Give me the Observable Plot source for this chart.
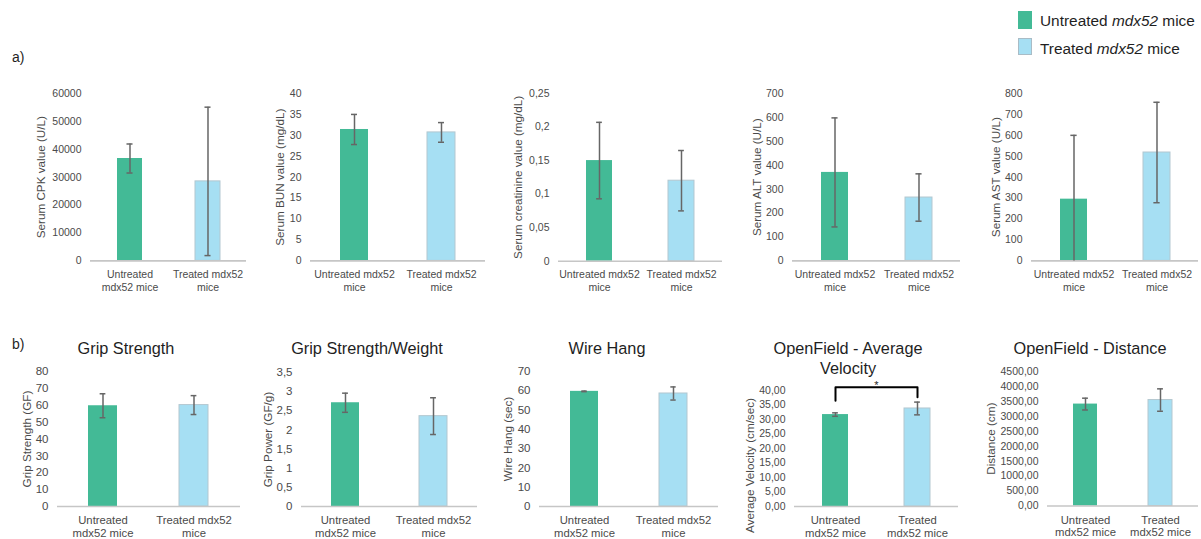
<!DOCTYPE html>
<html><head><meta charset="utf-8">
<script src="https://cdn.jsdelivr.net/npm/d3@7"></script>
<script src="https://cdn.jsdelivr.net/npm/@observablehq/plot@0.6"></script>
<style>
body{margin:0;background:#fff;font-family:"Liberation Sans",Arial,sans-serif;}
#root{position:relative;width:1201px;height:539px;overflow:hidden;background:#fff;}
.abs{position:absolute;white-space:nowrap;color:#1f1f1f;}
</style></head><body><div id="root"></div>
<script>
// ---------- data ----------
const groups = ["Untreated mdx52 mice", "Treated mdx52 mice"];
const groupColors = ["#43ba96", "#a6dff3"];

// a) serum values (mean, error)
const cpkMean = [36700, 28500], cpkErr = [5200, 26600];
const bunMean = [31.4, 30.7], bunErr = [3.6, 2.35];
const creatMean = [0.15, 0.12], creatErr = [0.057, 0.045];
const altMean = [370, 265], altErr = [228, 99];
const astMean = [295, 518], astErr = [305, 240];
// b) behaviour values (mean, error)
const gripMean = [59.7, 60.1], gripErr = [7.1, 5.6];
const gripWMean = [2.71, 2.36], gripWErr = [0.25, 0.48];
const wireMean = [59.7, 58.6], wireErr = [0.15, 3.4];
const velMean = [31.7, 33.8], velErr = [0.6, 2.2];
const distMean = [3410, 3545], distErr = [197, 375];

// tick values and labels
const cpkTicks = [0, 10000, 20000, 30000, 40000, 50000, 60000];
const cpkTickLabels = ["0", "10000", "20000", "30000", "40000", "50000", "60000"];
const bunTicks = [0, 5, 10, 15, 20, 25, 30, 35, 40];
const bunTickLabels = ["0", "5", "10", "15", "20", "25", "30", "35", "40"];
const creatTicks = [0, 0.05, 0.1, 0.15, 0.2, 0.25];
const creatTickLabels = ["0", "0,05", "0,1", "0,15", "0,2", "0,25"];
const altTicks = [0, 100, 200, 300, 400, 500, 600, 700];
const altTickLabels = ["0", "100", "200", "300", "400", "500", "600", "700"];
const astTicks = [0, 100, 200, 300, 400, 500, 600, 700, 800];
const astTickLabels = ["0", "100", "200", "300", "400", "500", "600", "700", "800"];
const gripTicks = [0, 10, 20, 30, 40, 50, 60, 70, 80];
const gripTickLabels = ["0", "10", "20", "30", "40", "50", "60", "70", "80"];
const gripWTicks = [0, 0.5, 1, 1.5, 2, 2.5, 3, 3.5];
const gripWTickLabels = ["0", "0,5", "1", "1,5", "2", "2,5", "3", "3,5"];
const wireTicks = [0, 10, 20, 30, 40, 50, 60, 70];
const wireTickLabels = ["0", "10", "20", "30", "40", "50", "60", "70"];
const velTicks = [0, 5, 10, 15, 20, 25, 30, 35, 40];
const velTickLabels = ["0,00", "5,00", "10,00", "15,00", "20,00", "25,00", "30,00", "35,00", "40,00"];
const distTicks = [0, 500, 1000, 1500, 2000, 2500, 3000, 3500, 4000, 4500];
const distTickLabels = ["0,00", "500,00", "1000,00", "1500,00", "2000,00", "2500,00", "3000,00", "3500,00", "4000,00", "4500,00"];

// category tick labels (line-broken as in the figure)
const catLabelsA1 = ["Untreated\nmdx52 mice", "Treated mdx52\nmice"];
const catLabelsA = ["Untreated mdx52\nmice", "Treated mdx52\nmice"];
const catLabelsB = ["Untreated\nmdx52 mice", "Treated mdx52\nmice"];
const catLabelsB2 = ["Untreated\nmdx52 mice", "Treated\nmdx52 mice"];

// significance bracket in the velocity panel
const sigBracketY = [36.5, 41.1, 41.1, 37.7];
const sigStarY = 41.9;

const panels = [
  {mean: cpkMean, err: cpkErr, ticks: cpkTicks, tickLabels: cpkTickLabels, yLabel: "Serum CPK value (U/L)", cats: catLabelsA1},
  {mean: bunMean, err: bunErr, ticks: bunTicks, tickLabels: bunTickLabels, yLabel: "Serum BUN value (mg/dL)", cats: catLabelsA},
  {mean: creatMean, err: creatErr, ticks: creatTicks, tickLabels: creatTickLabels, yLabel: "Serum creatinine value (mg/dL)", cats: catLabelsA},
  {mean: altMean, err: altErr, ticks: altTicks, tickLabels: altTickLabels, yLabel: "Serum ALT value (U/L)", cats: catLabelsA},
  {mean: astMean, err: astErr, ticks: astTicks, tickLabels: astTickLabels, yLabel: "Serum AST value (U/L)", cats: catLabelsA},
  {mean: gripMean, err: gripErr, ticks: gripTicks, tickLabels: gripTickLabels, yLabel: "Grip Strength (GF)", cats: catLabelsB, title: "Grip Strength"},
  {mean: gripWMean, err: gripWErr, ticks: gripWTicks, tickLabels: gripWTickLabels, yLabel: "Grip Power (GF/g)", cats: catLabelsB, title: "Grip Strength/Weight"},
  {mean: wireMean, err: wireErr, ticks: wireTicks, tickLabels: wireTickLabels, yLabel: "Wire Hang (sec)", cats: catLabelsB, title: "Wire Hang"},
  {mean: velMean, err: velErr, ticks: velTicks, tickLabels: velTickLabels, yLabel: "Average Velocity (cm/sec)", cats: catLabelsB2, title: "OpenField - Average\nVelocity", sig: true},
  {mean: distMean, err: distErr, ticks: distTicks, tickLabels: distTickLabels, yLabel: "Distance (cm)", cats: catLabelsB2, title: "OpenField - Distance"}
];

// ---------- layout ----------
const frames = [
  {x0: 90, x1: 246, yt: 93.3, yb: 260.7, labDx: -49, tickFs: 10.5, catFs: 10.5, lh: 1.24, catPad: 8},
  {x0: 310, x1: 485, yt: 93.3, yb: 260.7, labDx: -30, tickFs: 10.5, catFs: 10.5, lh: 1.24, catPad: 8},
  {x0: 558, x1: 722, yt: 93.3, yb: 261, labDx: -40, tickFs: 10.5, catFs: 10.5, lh: 1.24, catPad: 8},
  {x0: 792, x1: 960, yt: 93.3, yb: 260.7, labDx: -35, tickFs: 10.5, catFs: 10.5, lh: 1.24, catPad: 8},
  {x0: 1031, x1: 1198, yt: 93.3, yb: 260.7, labDx: -35, tickFs: 10.5, catFs: 10.5, lh: 1.24, catPad: 8},
  {x0: 57, x1: 240, yt: 371, yb: 506, labDx: -30, tickFs: 11.5, catFs: 11.3, lh: 1.12, catPad: 8.5, tx: 126},
  {x0: 301, x1: 477, yt: 372, yb: 506, labDx: -33, tickFs: 11.5, catFs: 11.3, lh: 1.12, catPad: 8.5, tx: 367},
  {x0: 539, x1: 718, yt: 371, yb: 506, labDx: -31, tickFs: 11.5, catFs: 11.3, lh: 1.12, catPad: 8.5, tx: 607},
  {x0: 794, x1: 958, yt: 390, yb: 506, labDx: -44, labDy: 17, tickFs: 10.5, catFs: 11.3, lh: 1.12, catPad: 8.5, tx: 848},
  {x0: 1047, x1: 1198, yt: 371, yb: 505.5, labDx: -56, tickFs: 10.5, catFs: 11.3, lh: 1.12, catPad: 8.5, tx: 1090}
];

const root = document.getElementById("root");
const FONT = '"Liberation Sans", Arial, sans-serif';
const ERR = "#666666";
const TXT = "#4a4a4a";

function addText(txt, left, top, fs, extra = {}) {
  const d = document.createElement("div");
  d.className = "abs";
  d.textContent = txt;
  Object.assign(d.style, {left: left + "px", top: top + "px", fontSize: fs + "px", lineHeight: "1"}, extra);
  root.appendChild(d);
  return d;
}

panels.forEach((p, k) => {
  const f = frames[k];
  const data = groups.map((g, i) => ({g, v: p.mean[i], e: p.err[i]}));
  const mL = 75, mR = 10, mT = 25, mB = 40;
  const fw = f.x1 - f.x0, fh = f.yb - f.yt;
  const bw = fw * 0.16;
  const capInset = Math.max(0, (bw - 6) / 2);
  const ymax = p.ticks[p.ticks.length - 1];
  const marks = [
    Plot.barY(data, {x: "g", y: "v", fill: "g"}),
    Plot.barY(data, {filter: d => d.g === groups[1], x: "g", y: "v", fill: "none", stroke: "#b3c7d0", strokeWidth: 1}),
    Plot.ruleY([0], {stroke: "#c6c6c6", strokeWidth: 1.6}),
    Plot.ruleX(data, {x: "g", y1: d => Math.max(0, d.v - d.e), y2: d => d.v + d.e, stroke: ERR, strokeWidth: 1.5}),
    Plot.tickY(data, {x: "g", y: d => d.v + d.e, insetLeft: capInset, insetRight: capInset, stroke: ERR, strokeWidth: 1.5}),
    Plot.tickY(data, {filter: d => d.v - d.e > 0, x: "g", y: d => d.v - d.e, insetLeft: capInset, insetRight: capInset, stroke: ERR, strokeWidth: 1.5}),
    Plot.axisY({ticks: p.ticks, tickFormat: d => p.tickLabels[p.ticks.indexOf(d)], tickSize: 0, tickPadding: 9, label: null, fontSize: f.tickFs, fill: TXT}),
    Plot.axisX({tickSize: 0, tickPadding: f.catPad, tickFormat: d => p.cats[groups.indexOf(d)], label: null, fontSize: f.catFs, lineHeight: f.lh, fill: TXT}),
    Plot.text([p.yLabel], {frameAnchor: "left", textAnchor: "middle", rotate: -90, dx: f.labDx, dy: f.labDy || 0, fontSize: 11.7, fill: TXT})
  ];
  if (p.sig) {
    const br = [groups[0], groups[0], groups[1], groups[1]].map((g, i) => ({g, y: sigBracketY[i]}));
    marks.push(Plot.line(br, {x: "g", y: "y", stroke: "#000", strokeWidth: 2}));
    marks.push(Plot.text(["*"], {frameAnchor: "middle", y: () => sigStarY, fontSize: 11, fill: "#262626"}));
  }
  const svg = Plot.plot({
    width: fw + mL + mR,
    height: fh + mT + mB,
    marginLeft: mL, marginRight: mR, marginTop: mT, marginBottom: mB,
    x: {domain: groups, paddingInner: 0.68, paddingOuter: 0.34, axis: null},
    y: {domain: [0, ymax], axis: null},
    color: {domain: groups, range: groupColors},
    style: {background: "transparent", overflow: "visible", fontFamily: FONT, color: TXT, maxWidth: "none"},
    marks
  });
  svg.style.position = "absolute";
  svg.style.left = (f.x0 - mL) + "px";
  svg.style.top = (f.yt - mT) + "px";
  root.appendChild(svg);

  if (p.title) {
    const fs = 16.3;
    const lh = 20;
    addText(p.title, f.tx - 150, 353.4 - ((lh - 1.117 * fs) / 2 + 0.905 * fs), fs,
      {width: "300px", textAlign: "center", whiteSpace: "pre", lineHeight: lh + "px"});
  }
});

// section letters
addText("a)", 12, 62 - 0.8465 * 14, 14);
addText("b)", 12, 348.5 - 0.8465 * 14, 14);

// legend
const legendLabels = [["Untreated ", "mdx52", " mice"], ["Treated ", "mdx52", " mice"]];
const legendBaselines = [26, 54];
legendLabels.forEach((parts, i) => {
  const sw = document.createElement("div");
  Object.assign(sw.style, {position: "absolute", left: "1018px", top: (i ? 37.5 : 11) + "px", width: "13.5px", height: (i ? 17 : 18) + "px",
    background: groupColors[i], boxSizing: "border-box", border: i ? "1px solid #a9bcc6" : "none"});
  root.appendChild(sw);
  const fs = 15.4;
  const d = addText("", 1040, legendBaselines[i] - 0.8465 * fs, fs);
  parts.forEach((s, j) => {
    const span = document.createElement("span");
    span.textContent = s;
    if (j === 1) span.style.fontStyle = "italic";
    d.appendChild(span);
  });
});
</script></body></html>
